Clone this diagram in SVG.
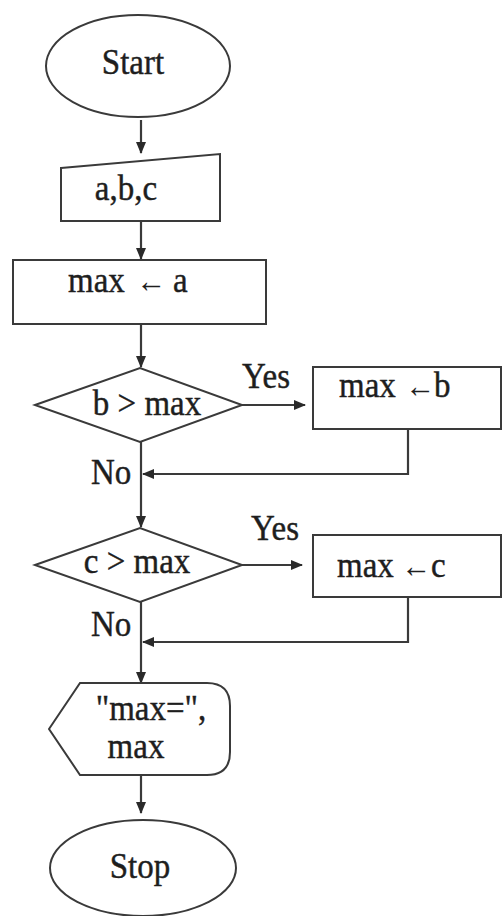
<svg xmlns="http://www.w3.org/2000/svg" width="502" height="916" viewBox="0 0 502 916">
<defs>
<marker id="ah" markerWidth="12" markerHeight="12" refX="11" refY="5" orient="auto" markerUnits="userSpaceOnUse" viewBox="0 0 12 10">
<path d="M0,0 L12,5 L0,10 Z" fill="#2a2a2a"/>
</marker>
<style>
.s{fill:#fff;stroke:#3a3a3a;stroke-width:2}
.c{fill:none;stroke:#3a3a3a;stroke-width:2.2;marker-end:url(#ah)}
text{font-family:"Liberation Serif","Times New Roman",serif;font-size:33px;fill:#1e1e1e;stroke:#1e1e1e;stroke-width:0.4}
.m{text-anchor:middle}
.a{font-size:30px;stroke-width:0}
</style>
</defs>
<rect width="502" height="916" fill="#fff"/>
<g id="connectors">
<line class="c" x1="141" y1="120" x2="141" y2="153"/>
<line class="c" x1="141" y1="221" x2="141" y2="259"/>
<line class="c" x1="141" y1="324" x2="141" y2="367"/>
<line class="c" x1="242" y1="405" x2="305" y2="405"/>
<polyline class="c" points="408,429 408,474 143,474"/>
<line class="c" x1="141" y1="442" x2="141" y2="527"/>
<line class="c" x1="242" y1="565" x2="302" y2="565"/>
<polyline class="c" points="408,597 408,642 143,642"/>
<line class="c" x1="141" y1="602" x2="141" y2="683"/>
<line class="c" x1="141" y1="775" x2="141" y2="813"/>
<text transform="translate(242 388) scale(1 1.1)">Yes</text>
<text transform="translate(251 540) scale(1 1.1)">Yes</text>
<text transform="translate(91 484) scale(1 1.1)">No</text>
<text transform="translate(91 636) scale(1 1.1)">No</text>
</g>
<g id="start">
<ellipse class="s" cx="138" cy="66" rx="92" ry="51"/>
<text class="m" transform="translate(133 74) scale(1 1.1)">Start</text>
</g>
<g id="input">
<polygon class="s" points="61,168 220,154 220,221 61,221"/>
<text class="m" transform="translate(126 200) scale(1 1.1)">a,b,c</text>
</g>
<g id="init">
<rect class="s" x="13" y="260" width="253" height="64"/>
<text transform="translate(68 292) scale(1 1.1)">max<tspan class="a" x="68">←</tspan><tspan x="105">a</tspan></text>
</g>
<g id="dec1">
<polygon class="s" points="35,405 140,368 242,405 140,442"/>
<text class="m" transform="translate(147 415) scale(1 1.1)">b &gt; max</text>
</g>
<g id="setb">
<rect class="s" x="313" y="367" width="188" height="62"/>
<text transform="translate(339 397) scale(1 1.1)">max<tspan class="a" x="66">←</tspan><tspan x="95">b</tspan></text>
</g>
<g id="dec2">
<polygon class="s" points="35,565 140,528 242,565 140,602"/>
<text class="m" transform="translate(137 573) scale(1 1.1)">c &gt; max</text>
</g>
<g id="setc">
<rect class="s" x="313" y="535" width="188" height="62"/>
<text transform="translate(337 577) scale(1 1.1)">max<tspan class="a" x="64">←</tspan><tspan x="94">c</tspan></text>
</g>
<g id="output">
<path class="s" d="M49,729 L80,683 L207,683 Q230,683 230,706 L230,752 Q230,775 207,775 L80,775 Z"/>
<text class="m" transform="translate(151 720) scale(1 1.1)">"max=",</text>
<text class="m" transform="translate(136 758) scale(1 1.1)">max</text>
</g>
<g id="stop">
<ellipse class="s" cx="143" cy="868" rx="93" ry="48"/>
<text class="m" transform="translate(140 878) scale(1 1.1)">Stop</text>
</g>
</svg>
